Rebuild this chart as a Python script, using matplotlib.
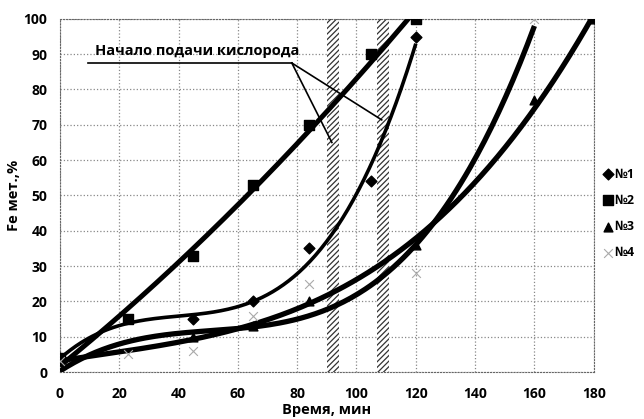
import numpy as np
import matplotlib
matplotlib.use("Agg")
import matplotlib.pyplot as plt

plt.rcParams['font.family'] = ['Open Sans', 'DejaVu Sans']
plt.rcParams['hatch.linewidth'] = 0.9

# measured points (time, min / Fe met., %)
x1 = [0, 45, 65, 84, 105, 120]
y1 = [4, 15, 20, 35, 54, 95]
x2 = [0, 23, 45, 65, 84, 105, 120]
y2 = [4, 15, 33, 53, 70, 90, 100]
x3 = [0, 45, 65, 84, 120, 160, 180]
y3 = [3, 10, 13, 20, 36, 77, 100]
x4 = [0, 23, 45, 65, 84, 120, 160]
y4 = [3, 5, 6, 16, 25, 28, 100]

# oxygen start bands
bands = [(90, 94), (107, 111)]
note = "Начало подачи кислорода"

fig = plt.figure(figsize=(6.44, 4.19), dpi=100)
ax = fig.add_axes([0.093, 0.112, 0.829, 0.843])

def trend(x, y, deg, lw):
    c = np.polyfit(x, y, deg)
    xs = np.linspace(min(x), max(x), 200)
    ax.plot(xs, np.polyval(c, xs), color='black', lw=lw, zorder=3,
            solid_capstyle='butt')

trend(x2, y2, 2, 3.6)
trend(x1, y1, 3, 2.6)
trend(x3, y3, 3, 3.8)
trend(x4, y4, 3, 3.8)

ax.scatter(x1, y1, marker='D', s=30, color='black', zorder=4, label='№1')
ax.scatter(x2, y2, marker='s', s=55, color='black', zorder=4, label='№2')
ax.scatter(x3, y3, marker='^', s=40, color='black', zorder=4, label='№3')
ax.scatter(x4, y4, marker='x', s=40, color='#aaaaaa', lw=0.8, zorder=4, label='№4')

for a, b in bands:
    ax.axvspan(a, b, ymin=0, ymax=1, facecolor='white', edgecolor='#333333',
               hatch='//////', lw=0, zorder=2.5)

# annotation with leader lines
ax.plot([9.4, 78.2], [87.5, 87.5], color='black', lw=1.2, zorder=5)
ax.plot([78.2, 108.5], [87.5, 71.4], color='black', lw=1.2, zorder=5)
ax.plot([78.2, 91.7], [87.5, 65], color='black', lw=1.2, zorder=5)
ax.text(12, 89, note, fontsize=10.5, fontweight='bold', ha='left', va='bottom', zorder=5)

ax.set_xlim(0, 180)
ax.set_ylim(0, 100)
ax.set_xticks(range(0, 181, 20))
ax.set_yticks(range(0, 101, 10))
ax.grid(True, color='#888888', ls=':', lw=0.9)
ax.set_axisbelow(True)
for s in ax.spines.values():
    s.set_linestyle(':')
    s.set_color('#666666')
ax.tick_params(length=0, labelsize=10)
ax.tick_params(axis='x', pad=11)
ax.tick_params(axis='y', pad=9)
for lab in ax.get_xticklabels() + ax.get_yticklabels():
    lab.set_fontweight('bold')

ax.set_xlabel('Время, мин', fontsize=10.5, fontweight='bold', labelpad=1)
ax.set_ylabel('Fe мет.,%', fontsize=10.5, fontweight='bold', labelpad=2)

ax.legend(loc='upper left', bbox_to_anchor=(1.0, 0.60), frameon=False,
          handletextpad=0.05, labelspacing=1.05, borderaxespad=0.2,
          handlelength=1.0, prop={'weight': 'bold', 'size': 9})

fig.savefig('out.png', dpi=100)
